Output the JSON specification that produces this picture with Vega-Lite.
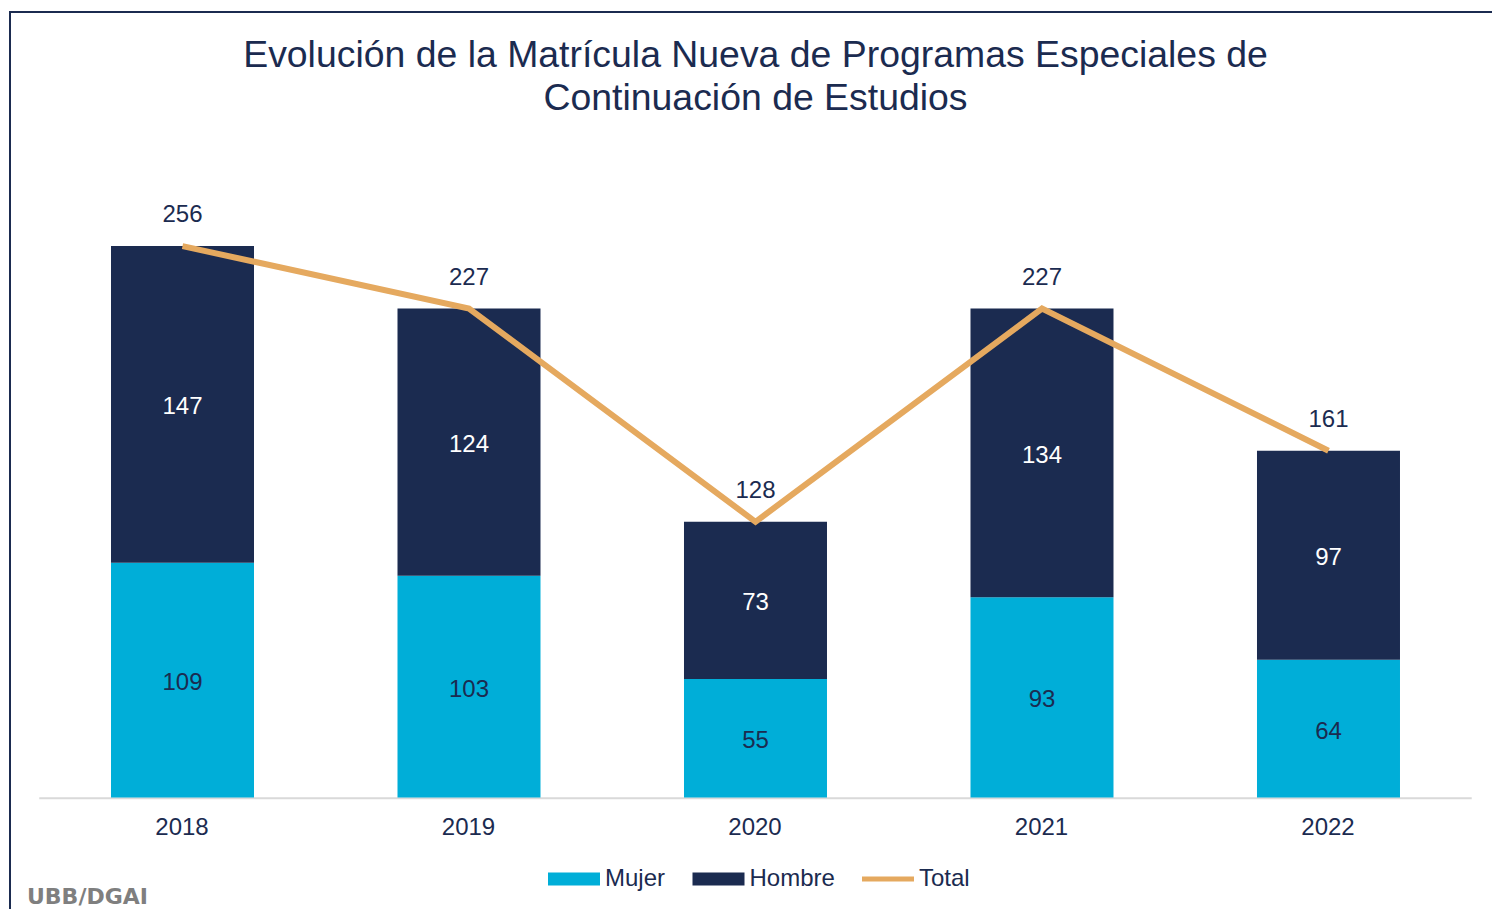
{
"$schema":"https://vega.github.io/schema/vega-lite/v6.json",
"autosize":{"type":"none"},
"padding":{"left":10,"top":12,"right":0,"bottom":0},
"width":1484,"height":899,
"background":"white",
"config":{"view":{"stroke":"#1B2B50","strokeWidth":2},"font":"Liberation Sans"},
"title":{"text":["Evolución de la Matrícula Nueva de Programas Especiales de","Continuación de Estudios"],"font":"Liberation Sans","fontSize":37.4,"fontWeight":"normal","color":"#1B2B50","lineHeight":43,"anchor":"middle","frame":"group","dx":3.5,"dy":109},
"datasets":{
"segments":[
{"year":2018,"serie":"Mujer","value":109},{"year":2018,"serie":"Hombre","value":147},
{"year":2019,"serie":"Mujer","value":103},{"year":2019,"serie":"Hombre","value":124},
{"year":2020,"serie":"Mujer","value":55},{"year":2020,"serie":"Hombre","value":73},
{"year":2021,"serie":"Mujer","value":93},{"year":2021,"serie":"Hombre","value":134},
{"year":2022,"serie":"Mujer","value":64},{"year":2022,"serie":"Hombre","value":97}],
"totals":[
{"year":2018,"serie":"Total","value":256},{"year":2019,"serie":"Total","value":227},
{"year":2020,"serie":"Total","value":128},{"year":2021,"serie":"Total","value":227},
{"year":2022,"serie":"Total","value":161}]
},
"encoding":{
"x":{"type":"quantitative","scale":{"domain":[2017.3979,2022.5777],"nice":false,"zero":false,"padding":0},
"axis":{"values":[2018,2019,2020,2021,2022],"format":"d","title":null,"grid":false,"domain":false,"ticks":false,"offset":-113,"labelFontSize":24,"labelColor":"#1B2B50","labelPadding":17,"labelOffset":-1,"labelFont":"Liberation Sans"}},
"y":{"type":"quantitative","scale":{"domain":[-52.69,364.67],"nice":false,"zero":false},"axis":null}
},
"layer":[
{"data":{"values":[{"from":2017.5,"to":2022.5,"base":-0.4}]},"mark":{"type":"rule","color":"#D9D9D9","strokeWidth":2},
"encoding":{"x":{"field":"from","type":"quantitative"},"x2":{"field":"to"},"y":{"field":"base","type":"quantitative"}}},
{"data":{"name":"segments"},"mark":{"type":"bar","size":143},
"encoding":{"x":{"field":"year","type":"quantitative"},"y":{"field":"value","type":"quantitative","stack":"zero"},
"color":{"field":"serie","type":"nominal","scale":{"domain":["Mujer","Hombre","Total"],"range":["#00AED8","#1B2B50","#E5A95F"]},
"legend":{"orient":"none","direction":"horizontal","legendX":538,"legendY":841,"title":null,"symbolType":"M-1,-0.25H1V0.25H-1Z","symbolSize":2704,"symbolStrokeWidth":0,"labelFontSize":24,"labelColor":"#1B2B50","labelFont":"Liberation Sans","labelOffset":5,"columnPadding":26.5,
"encode":{"symbols":{"update":{"shape":{"signal":"datum.value==='Total'?'M-1,-0.096H1V0.096H-1Z':'M-1,-0.25H1V0.25H-1Z'"},"fill":{"scale":"color","field":"value"},"strokeWidth":{"value":0},"opacity":{"value":1}}}}}}}},
{"data":{"name":"segments"},"mark":{"type":"text","fontSize":24,"font":"Liberation Sans","dy":3},
"encoding":{"x":{"field":"year","type":"quantitative"},"y":{"field":"value","type":"quantitative","stack":"zero","bandPosition":0.5},
"detail":{"field":"serie"},
"order":{"field":"serie","sort":"descending"},
"text":{"field":"value","type":"quantitative"},
"color":{"condition":{"test":"datum.serie==='Hombre'","value":"#FFFFFF"},"value":"#1B2B50"}}},
{"data":{"name":"totals"},"mark":{"type":"line","strokeWidth":6,"clip":false},
"encoding":{"x":{"field":"year","type":"quantitative"},"y":{"field":"value","type":"quantitative"},"color":{"field":"serie","type":"nominal"}}},
{"data":{"name":"totals"},"mark":{"type":"text","fontSize":24,"font":"Liberation Sans","color":"#1B2B50","dy":-31},
"encoding":{"x":{"field":"year","type":"quantitative"},"y":{"field":"value","type":"quantitative"},"text":{"field":"value","type":"quantitative"}}},
{"data":{"values":[{"firma":"UBB/DGAI"}]},"mark":{"type":"text","font":"DejaVu Sans","fontWeight":"bold","fontSize":22,"color":"#7F7F7F","align":"left"},
"encoding":{"x":{"datum":2017.4572},"y":{"datum":-46.3},"text":{"field":"firma","type":"nominal"}}}
]
}
